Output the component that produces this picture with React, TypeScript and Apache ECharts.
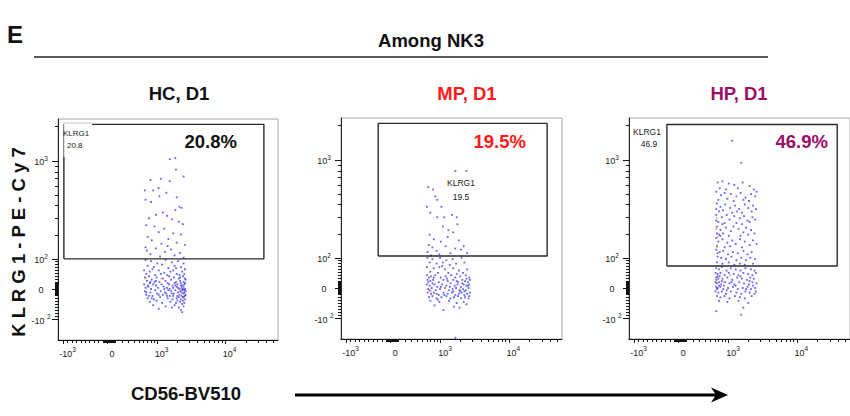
import React, { useEffect, useRef } from "react";
import * as echarts from "echarts";

// ---------- DATA (display units of the biexponential scale, in decades) ----------
// Each event: [CD56-BV510, KLRG1-PE-Cy7]
const hcEvents: number[][] = [
  [0.90,1.12],[0.98,1.13],[0.99,1.03],[1.10,0.97],[0.62,0.94],[0.77,0.95],[0.90,0.93],[0.54,0.85],[0.66,0.85],[0.74,0.87],
  [0.85,0.83],[0.75,0.80],[1.00,0.79],[0.55,0.77],[0.63,0.75],[1.04,0.71],[0.98,0.68],[1.07,0.70],[0.80,0.66],[0.86,0.63],
  [0.70,0.64],[0.60,0.61],[0.93,0.60],[1.03,0.58],[1.09,0.56],[0.56,0.55],[0.68,0.54],[0.82,0.52],[0.74,0.49],[0.95,0.48],
  [1.06,0.47],[0.58,0.45],[0.64,0.42],[0.88,0.43],[1.00,0.40],[0.78,0.39],[1.12,0.38],[0.55,0.36],[0.70,0.35],[0.92,0.34],
  [0.83,0.32],[1.05,0.31],[0.62,0.30],[0.97,0.29],[0.76,0.28],[1.10,0.27],[0.57,0.33],[0.87,0.37],
  [0.55,0.25],[0.63,0.24],[0.72,0.22],[0.84,0.25],[0.93,0.23],[1.02,0.24],[1.10,0.22],[0.58,0.20],[0.67,0.19],[0.79,0.21],
  [0.88,0.18],[0.97,0.20],[1.06,0.19],[1.12,0.17],[0.53,0.16],[0.61,0.15],[0.74,0.16],[0.82,0.14],[0.91,0.15],[1.00,0.13],
  [1.08,0.15],[0.56,0.13],[0.69,0.12],[0.77,0.13],[0.95,0.16],[1.04,0.12],[1.11,0.13],[0.65,0.17],[0.86,0.12],[0.99,0.18],
  [0.54,0.10],[0.60,0.11],[0.71,0.10],[0.80,0.09],[0.89,0.11],[0.96,0.10],[1.03,0.09],[1.09,0.11],[1.12,0.09],
  [0.57,0.07],[0.64,0.08],[0.75,0.06],[0.84,0.07],[0.92,0.08],[0.99,0.06],[1.05,0.07],[1.10,0.06],[1.13,0.08],[0.68,0.06],
  [0.53,0.04],[0.61,0.05],[0.70,0.03],[0.78,0.04],[0.87,0.05],[0.94,0.03],[1.01,0.04],[1.06,0.05],[1.08,0.03],[1.11,0.04],[0.97,0.05],[0.66,0.04],
  [0.55,0.01],[0.59,0.02],[0.73,0.01],[0.81,0.02],[0.90,0.00],[0.95,0.01],[1.00,0.02],[1.04,0.00],[1.07,0.01],[1.10,0.02],[1.12,0.00],[0.63,0.00],[0.86,0.01],
  [0.54,-0.02],[0.62,-0.03],[0.69,-0.01],[0.77,-0.02],[0.83,-0.03],[0.92,-0.02],[0.98,-0.01],[1.02,-0.03],[1.05,-0.02],[1.08,-0.01],[1.11,-0.03],[1.13,-0.02],[0.88,-0.01],
  [0.56,-0.05],[0.65,-0.06],[0.72,-0.04],[0.80,-0.05],[0.90,-0.06],[0.96,-0.04],[1.01,-0.06],[1.04,-0.05],[1.07,-0.06],[1.10,-0.04],[1.12,-0.06],[0.85,-0.04],
  [0.58,-0.08],[0.67,-0.09],[0.76,-0.07],[0.87,-0.08],[0.94,-0.09],[1.00,-0.08],[1.06,-0.09],[1.09,-0.07],[1.12,-0.09],[0.71,-0.10],
  [0.61,-0.11],[0.79,-0.12],[0.91,-0.11],[0.99,-0.12],[1.05,-0.11],[1.11,-0.12],[1.08,-0.13],
  [0.66,-0.14],[0.84,-0.15],[0.97,-0.14],[1.03,-0.16],[1.10,-0.15],[0.74,-0.17],[1.06,-0.18],[0.93,-0.16],[1.08,-0.20],
  [1.06,0.03],[1.09,0.00],[1.11,-0.01],[1.07,-0.03],[1.10,-0.07],[1.12,0.05],[1.03,-0.07],[1.05,0.10],[1.09,-0.10],[1.02,0.01],
  [0.98,0.03],[0.95,-0.06],[0.58,0.03],[0.56,-0.03],[0.60,-0.06],[0.62,0.06],[0.74,-0.05],[0.82,0.00],[0.89,0.04],[0.93,-0.04],
  [1.13,-0.05],[1.01,-0.10],[0.86,-0.06],[0.70,0.07],[0.64,-0.08],
];
const hcDense: number[][] = [[0.55,0.09],[0.78,0.09],[1.00,0.06],[1.05,-0.01],[1.08,-0.04],[1.10,-0.08]];

const mpEvents: number[][] = [
  [0.93,1.01],[1.09,1.01],[0.54,0.87],[0.61,0.85],[0.67,0.76],[0.64,0.79],[0.52,0.70],[0.57,0.65],[0.67,0.61],[0.77,0.61],
  [0.88,0.63],[0.95,0.61],[0.75,0.53],[0.83,0.50],[0.90,0.48],[0.56,0.46],[0.62,0.42],[0.72,0.40],[0.98,0.41],[0.55,0.37],
  [0.60,0.35],[0.79,0.36],[1.01,0.33],[1.05,0.36],[0.66,0.32],[0.86,0.30],[0.53,0.31],[0.93,0.34],[0.70,0.29],[1.10,0.30],
  [0.58,0.28],[0.82,0.44],[0.96,0.55],[0.73,0.70],
  [0.53,0.26],[0.60,0.25],[0.71,0.26],[0.80,0.24],[0.89,0.25],[1.02,0.26],[0.56,0.22],[0.66,0.21],[0.75,0.22],[0.85,0.20],
  [0.94,0.21],[1.06,0.22],[0.52,0.18],[0.62,0.17],[0.70,0.18],[0.78,0.16],[0.90,0.17],[0.98,0.15],[1.10,0.16],[0.57,0.14],
  [0.68,0.13],[0.83,0.13],[0.95,0.12],[1.04,0.13],[0.74,0.19],
  [0.52,0.11],[0.55,0.09],[0.58,0.10],[0.64,0.11],[0.72,0.09],[0.79,0.10],[0.87,0.11],[0.93,0.09],[1.00,0.10],[1.08,0.11],[1.13,0.09],
  [0.53,0.07],[0.57,0.06],[0.61,0.07],[0.69,0.05],[0.76,0.07],[0.82,0.06],[0.90,0.07],[0.97,0.05],[1.03,0.07],[1.07,0.06],[1.11,0.05],[1.14,0.07],
  [0.52,0.03],[0.56,0.02],[0.63,0.03],[0.67,0.01],[0.74,0.03],[0.80,0.02],[0.86,0.04],[0.92,0.02],[0.96,0.03],[1.01,0.01],[1.05,0.03],[1.09,0.02],[1.13,0.03],
  [0.54,-0.01],[0.59,0.00],[0.65,-0.02],[0.71,-0.01],[0.78,0.00],[0.84,-0.02],[0.89,-0.01],[0.94,0.00],[0.99,-0.02],[1.04,-0.01],[1.08,-0.02],[1.12,0.00],
  [0.53,-0.04],[0.58,-0.05],[0.62,-0.04],[0.69,-0.06],[0.76,-0.04],[0.82,-0.05],[0.88,-0.04],[0.93,-0.06],[0.98,-0.05],[1.02,-0.04],[1.06,-0.06],[1.10,-0.05],[1.14,-0.04],
  [0.55,-0.08],[0.60,-0.07],[0.66,-0.09],[0.73,-0.08],[0.80,-0.07],[0.86,-0.09],[0.91,-0.08],[0.97,-0.07],[1.01,-0.09],[1.07,-0.08],[1.12,-0.09],
  [0.57,-0.11],[0.70,-0.12],[0.84,-0.11],[0.95,-0.13],[1.05,-0.12],[0.63,-0.15],[0.91,-0.16],[1.09,-0.14],[0.76,-0.19],[0.99,-0.17],[0.93,-0.43],
  [0.54,0.05],[0.56,-0.02],[0.60,0.04],[0.66,-0.05],[0.72,0.01],[0.77,-0.06],[0.85,0.01],[0.90,-0.03],[0.95,0.06],[1.00,-0.03],
  [1.03,0.04],[1.06,-0.03],[1.11,0.02],[1.13,-0.07],[0.62,0.09],[0.81,0.08],[0.68,-0.10],[1.09,0.08],
];
const mpDense: number[][] = [[0.58,-0.03],[0.78,0.00],[0.99,-0.01]];

const hpEvents: number[][] = [
  [0.77,1.27],[0.90,1.08],
  [0.56,0.91],[0.63,0.92],[0.72,0.90],[0.80,0.89],[0.92,0.91],[1.02,0.88],[0.59,0.86],[0.68,0.85],[0.85,0.86],[1.08,0.85],
  [0.54,0.83],[0.61,0.80],[0.66,0.82],[0.75,0.81],[0.83,0.79],[0.89,0.82],[0.96,0.78],[1.04,0.81],[1.10,0.79],[0.57,0.76],[0.70,0.77],[0.79,0.75],[0.93,0.76],[1.01,0.75],[1.12,0.83],
  [0.55,0.73],[0.60,0.70],[0.67,0.72],[0.74,0.69],[0.81,0.71],[0.87,0.68],[0.95,0.72],[1.00,0.69],[1.07,0.71],[0.58,0.66],[0.64,0.67],[0.77,0.65],[0.84,0.66],[0.91,0.65],[1.05,0.66],[1.11,0.68],
  [0.54,0.63],[0.62,0.61],[0.69,0.63],[0.73,0.59],[0.80,0.62],[0.88,0.60],[0.94,0.62],[0.99,0.58],[1.06,0.61],[0.57,0.57],[0.66,0.56],[0.83,0.56],[0.91,0.55],[1.02,0.57],[1.10,0.59],
  [0.55,0.53],[0.60,0.50],[0.68,0.52],[0.75,0.49],[0.79,0.53],[0.86,0.51],[0.93,0.48],[0.97,0.52],[1.04,0.50],[1.09,0.47],[0.58,0.46],[0.64,0.47],[0.72,0.45],[0.89,0.45],[1.00,0.46],
  [0.54,0.43],[0.57,0.40],[0.63,0.42],[0.70,0.39],[0.77,0.41],[0.82,0.38],[0.88,0.42],[0.95,0.40],[1.02,0.37],[1.07,0.41],[0.55,0.36],[0.66,0.35],[0.74,0.36],[0.91,0.35],[1.12,0.38],
  [0.54,0.33],[0.59,0.31],[0.64,0.32],[0.71,0.29],[0.78,0.31],[0.85,0.30],[0.93,0.32],[0.99,0.29],[1.05,0.31],[0.56,0.27],[0.61,0.26],[0.68,0.25],[0.76,0.27],
  [0.83,0.24],[0.90,0.26],[0.97,0.24],[1.03,0.26],[1.10,0.25],[0.55,0.22],[0.63,0.21],[0.72,0.22],[0.80,0.20],[0.88,0.21],[0.95,0.20],[1.07,0.21],
  [0.54,0.17],[0.58,0.16],[0.62,0.18],[0.69,0.15],[0.75,0.17],[0.82,0.16],[0.89,0.15],[0.96,0.17],[1.04,0.16],[1.09,0.15],
  [0.53,0.13],[0.56,0.12],[0.60,0.13],[0.66,0.11],[0.72,0.13],[0.79,0.12],[0.86,0.11],[0.93,0.13],[1.00,0.12],[1.06,0.11],[1.11,0.13],
  [0.54,0.09],[0.57,0.08],[0.59,0.10],[0.63,0.08],[0.70,0.09],[0.77,0.07],[0.84,0.09],[0.91,0.08],[0.98,0.07],[1.03,0.09],[1.08,0.08],
  [0.53,0.05],[0.55,0.04],[0.58,0.05],[0.61,0.03],[0.67,0.05],[0.73,0.04],[0.80,0.03],[0.87,0.05],[0.94,0.04],[1.01,0.03],[1.06,0.05],[1.12,0.04],
  [0.54,0.01],[0.56,0.00],[0.60,0.01],[0.64,-0.01],[0.71,0.00],[0.78,0.01],[0.85,-0.01],[0.92,0.00],[0.99,0.01],[1.04,-0.01],[1.10,0.00],
  [0.53,-0.03],[0.57,-0.04],[0.62,-0.03],[0.68,-0.05],[0.75,-0.03],[0.83,-0.04],[0.90,-0.05],[0.96,-0.03],[1.02,-0.04],[1.09,-0.05],
  [0.55,-0.07],[0.60,-0.08],[0.66,-0.07],[0.73,-0.09],[0.81,-0.07],[0.88,-0.08],[0.95,-0.09],[1.05,-0.07],
  [0.58,-0.11],[0.70,-0.12],[0.86,-0.11],[1.00,-0.13],[0.54,-0.20],[0.93,-0.17],[0.90,-0.23],
  [0.54,0.07],[0.55,-0.01],[0.56,0.10],[0.58,0.02],[0.62,0.06],[0.65,0.02],[0.69,-0.02],[0.76,0.05],[0.82,0.02],[0.89,0.10],
  [0.97,-0.01],[1.02,0.06],[1.07,0.02],[1.11,-0.03],[0.54,0.58],[0.55,0.47],[0.54,0.68],[0.56,0.30],[0.60,0.45],[0.63,0.55],
];
const hpDense: number[][] = [[0.55,0.60],[0.54,0.51],[0.56,0.44],[0.55,0.37],[0.57,0.08],[0.56,0.04],[0.64,0.05],[0.74,0.11]];

// gates: [xMin, xMax, yMin, yMax]
const hcGate = [-0.63, 2.26, 0.26, 1.42];
const mpGate = [-0.18, 2.25, 0.276, 1.42];
const hpGate = [-0.17, 2.28, 0.19, 1.41];

const panelTitles = ["HC, D1", "MP, D1", "HP, D1"];
const panelColors = ["#111111", "#ff1a1a", "#9b0d67"];
const gatePercents = ["20.8%", "19.5%", "46.9%"];
const gateValues = ["20.8", "19.5", "46.9"];
const gateName = "KLRG1";
const headerText = "Among NK3";
const panelLetter = "E";
const yTitle = "K L R G 1 - P E - C y 7";
const xTitle = "CD56-BV510";

// raw tick values and their labels
const xMajorRaw = [-1000, 0, 1000, 10000];
const xMajorLabels = ["{b|-10}{s|3}", "{b|0}", "{b|10}{s|3}", "{b|10}{s|4}"];
const yMajorRaw = [-100, 0, 100, 1000];
const yMajorLabels = ["{b|-10 }{s|2}", "{b|0}", "{b|10}{s|2}", "{b|10}{s|3}"];

// ---------- SCALES ----------
const tx = (v: number) => (v < 0 ? (0.643 * v) / 1000 : Math.asinh(v / 400) / Math.LN10);
const ty = (v: number) => Math.asinh(v / 158) / Math.LN10;
const X_MIN = -0.715, X_MAX = 2.464;
const Y_MIN = -0.44, Y_MAX = 1.466;

const range = (a: number, b: number, s: number) => { const r: number[] = []; for (let v = a; v <= b + 1e-9; v += s) r.push(v); return r; };
const xMinorRaw = [
  ...range(-900, -100, 100), ...range(-90, -10, 10), ...range(10, 90, 10),
  ...range(200, 900, 100), ...range(2000, 9000, 1000), ...range(20000, 50000, 10000), 100, -100,
];
const yMinorRaw = [
  ...range(-20, -2, 2), ...range(2, 20, 2), ...range(-90, -30, 10), ...range(30, 90, 10),
  ...range(200, 900, 100), 2000,
];
const xMajorD = xMajorRaw.map(tx);
const yMajorD = yMajorRaw.map(ty);
const xMinorD = xMinorRaw.map(tx).filter((d) => d > X_MIN && d < X_MAX);
const yMinorD = yMinorRaw.map(ty).filter((d) => d > Y_MIN && d < Y_MAX);

const FONT = '"Liberation Sans", Arial, Helvetica, sans-serif';

const nearestLabel = (ds: number[], labels: string[]) => (val: number) => {
  let k = 0, best = Infinity;
  ds.forEach((d, j) => { const e = Math.abs(d - val); if (e < best) { best = e; k = j; } });
  return labels[k];
};

const rich = {
  b: { fontSize: 9, color: "#222", fontFamily: FONT, lineHeight: 12, verticalAlign: "bottom" },
  s: { fontSize: 6.5, color: "#222", fontFamily: FONT, lineHeight: 12, verticalAlign: "top" },
};

const grids = [
  { left: 58, top: 119, width: 220, height: 221 },
  { left: 341, top: 118, width: 221, height: 221 },
  { left: 629, top: 118, width: 222, height: 221 },
];

function buildOption() {
  const xAxis: any[] = [];
  const yAxis: any[] = [];
  const series: any[] = [];
  const events = [hcEvents, mpEvents, hpEvents];
  const dense = [hcDense, mpDense, hpDense];
  const gates = [hcGate, mpGate, hpGate];

  grids.forEach((_, gi) => {
    [true, false].forEach((major) => {
      xAxis.push({
        type: "value", gridIndex: gi, position: "bottom", min: X_MIN, max: X_MAX,
        axisLine: { show: major, onZero: false, lineStyle: { color: "#111", width: 1 } },
        axisTick: { show: true, customValues: major ? xMajorD : xMinorD, length: major ? 4 : 3, lineStyle: { color: "#111", width: 1 } },
        axisLabel: major
          ? { show: true, customValues: xMajorD, formatter: nearestLabel(xMajorD, xMajorLabels), margin: 6, rich, padding: [0, 0, 0, 9] }
          : { show: false },
        splitLine: { show: false },
      });
      yAxis.push({
        type: "value", gridIndex: gi, position: "left", min: Y_MIN, max: Y_MAX,
        axisLine: { show: major, onZero: false, lineStyle: { color: "#222", width: 1 } },
        axisTick: { show: true, customValues: major ? yMajorD : yMinorD, length: major ? 6 : 3, lineStyle: { color: "#111", width: 1 } },
        axisLabel: major
          ? { show: true, customValues: yMajorD, formatter: nearestLabel(yMajorD, yMajorLabels), margin: 17, align: "center", rich }
          : { show: false },
        splitLine: { show: false },
      });
    });
    const g = gates[gi];
    series.push({
      type: "scatter", xAxisIndex: gi * 2, yAxisIndex: gi * 2, data: events[gi], symbol: "rect", symbolSize: 1.8,
      itemStyle: { color: "rgba(25,25,245,0.85)" }, silent: true, z: 3,
    });
    series.push({
      type: "scatter", xAxisIndex: gi * 2, yAxisIndex: gi * 2, data: dense[gi], symbol: "rect", symbolSize: 1.8,
      itemStyle: { color: "rgba(245,140,60,0.9)" }, silent: true, z: 4,
    });
    series.push({
      type: "line", xAxisIndex: gi * 2, yAxisIndex: gi * 2, silent: true, symbol: "none", z: 5,
      data: [[g[0], g[2]], [g[1], g[2]], [g[1], g[3]], [g[0], g[3]], [g[0], g[2]]],
      lineStyle: { color: "#2a2a2a", width: 1.4 },
    });
  });

  const txt = (text: string, x: number, y: number, size: number, color: string, bold: boolean, align = "center", extra: any = {}) => ({
    type: "text", x, y, z: 100, ...extra,
    style: { text, fill: color, fontSize: size, fontWeight: bold ? "bold" : "normal", fontFamily: FONT, align, verticalAlign: "middle" },
  });

  const titleX = [179, 467, 739];
  const pctRight = [237, 526, 828];
  const elements: any[] = [
    txt(panelLetter, 7, 34, 24, "#111", true, "left"),
    { type: "line", z: 100, shape: { x1: 34, y1: 57, x2: 768, y2: 57 }, style: { stroke: "#222", lineWidth: 1.5 } },
    txt(headerText, 431, 40, 18.5, "#111", true),
    txt(yTitle, 18, 242, 18.5, "#111", true, "center", { rotation: Math.PI / 2 }),
    txt(xTitle, 131, 393, 18.5, "#111", true, "left"),
    { type: "line", z: 100, shape: { x1: 295, y1: 395, x2: 716, y2: 395 }, style: { stroke: "#000", lineWidth: 3.2 } },
    { type: "polygon", z: 100, shape: { points: [[711, 387.5], [728, 395], [711, 402.5], [716, 395]] }, style: { fill: "#000" } },
    // label box of the first gate
    { type: "rect", z: 90, shape: { x: 64, y: 123, width: 28, height: 34 }, style: { fill: "#fff" } },
    { type: "polyline", z: 91, shape: { points: [[64, 157], [64, 123], [92, 123]] }, style: { stroke: "#c4c4c4", lineWidth: 1, fill: null } },
    txt(gateName, 63, 133, 8, "#222", false, "left"),
    txt(gateValues[0], 67, 145.5, 8, "#222", false, "left"),
    txt(gateName, 461, 183, 8.5, "#222", false),
    txt(gateValues[1], 461, 197, 8.5, "#222", false),
    txt(gateName, 647, 132, 8.5, "#222", false),
    txt(gateValues[2], 649, 144, 8.5, "#222", false),
  ];
  panelTitles.forEach((t, i) => {
    elements.push(txt(t, titleX[i], 93, 18.5, panelColors[i], true));
    elements.push(txt(gatePercents[i], pctRight[i], 141, 18.5, panelColors[i], true, "right"));
  });

  return {
    animation: false,
    backgroundColor: "#ffffff",
    textStyle: { fontFamily: FONT },
    grid: grids.map((g) => ({ ...g, show: true, borderColor: "#a8a8a8", borderWidth: 1, backgroundColor: "transparent" })),
    xAxis,
    yAxis,
    series,
    graphic: { elements },
  };
}

export default function App() {
  const ref = useRef<HTMLDivElement>(null);
  useEffect(() => {
    if (!ref.current) return;
    const chart = echarts.init(ref.current, undefined, { renderer: "svg" });
    chart.setOption(buildOption() as any);
    return () => chart.dispose();
  }, []);
  return (
    <div
      ref={ref}
      style={{ position: "fixed", left: 0, top: 0, width: 850, height: 416, background: "#fff" }}
    />
  );
}
